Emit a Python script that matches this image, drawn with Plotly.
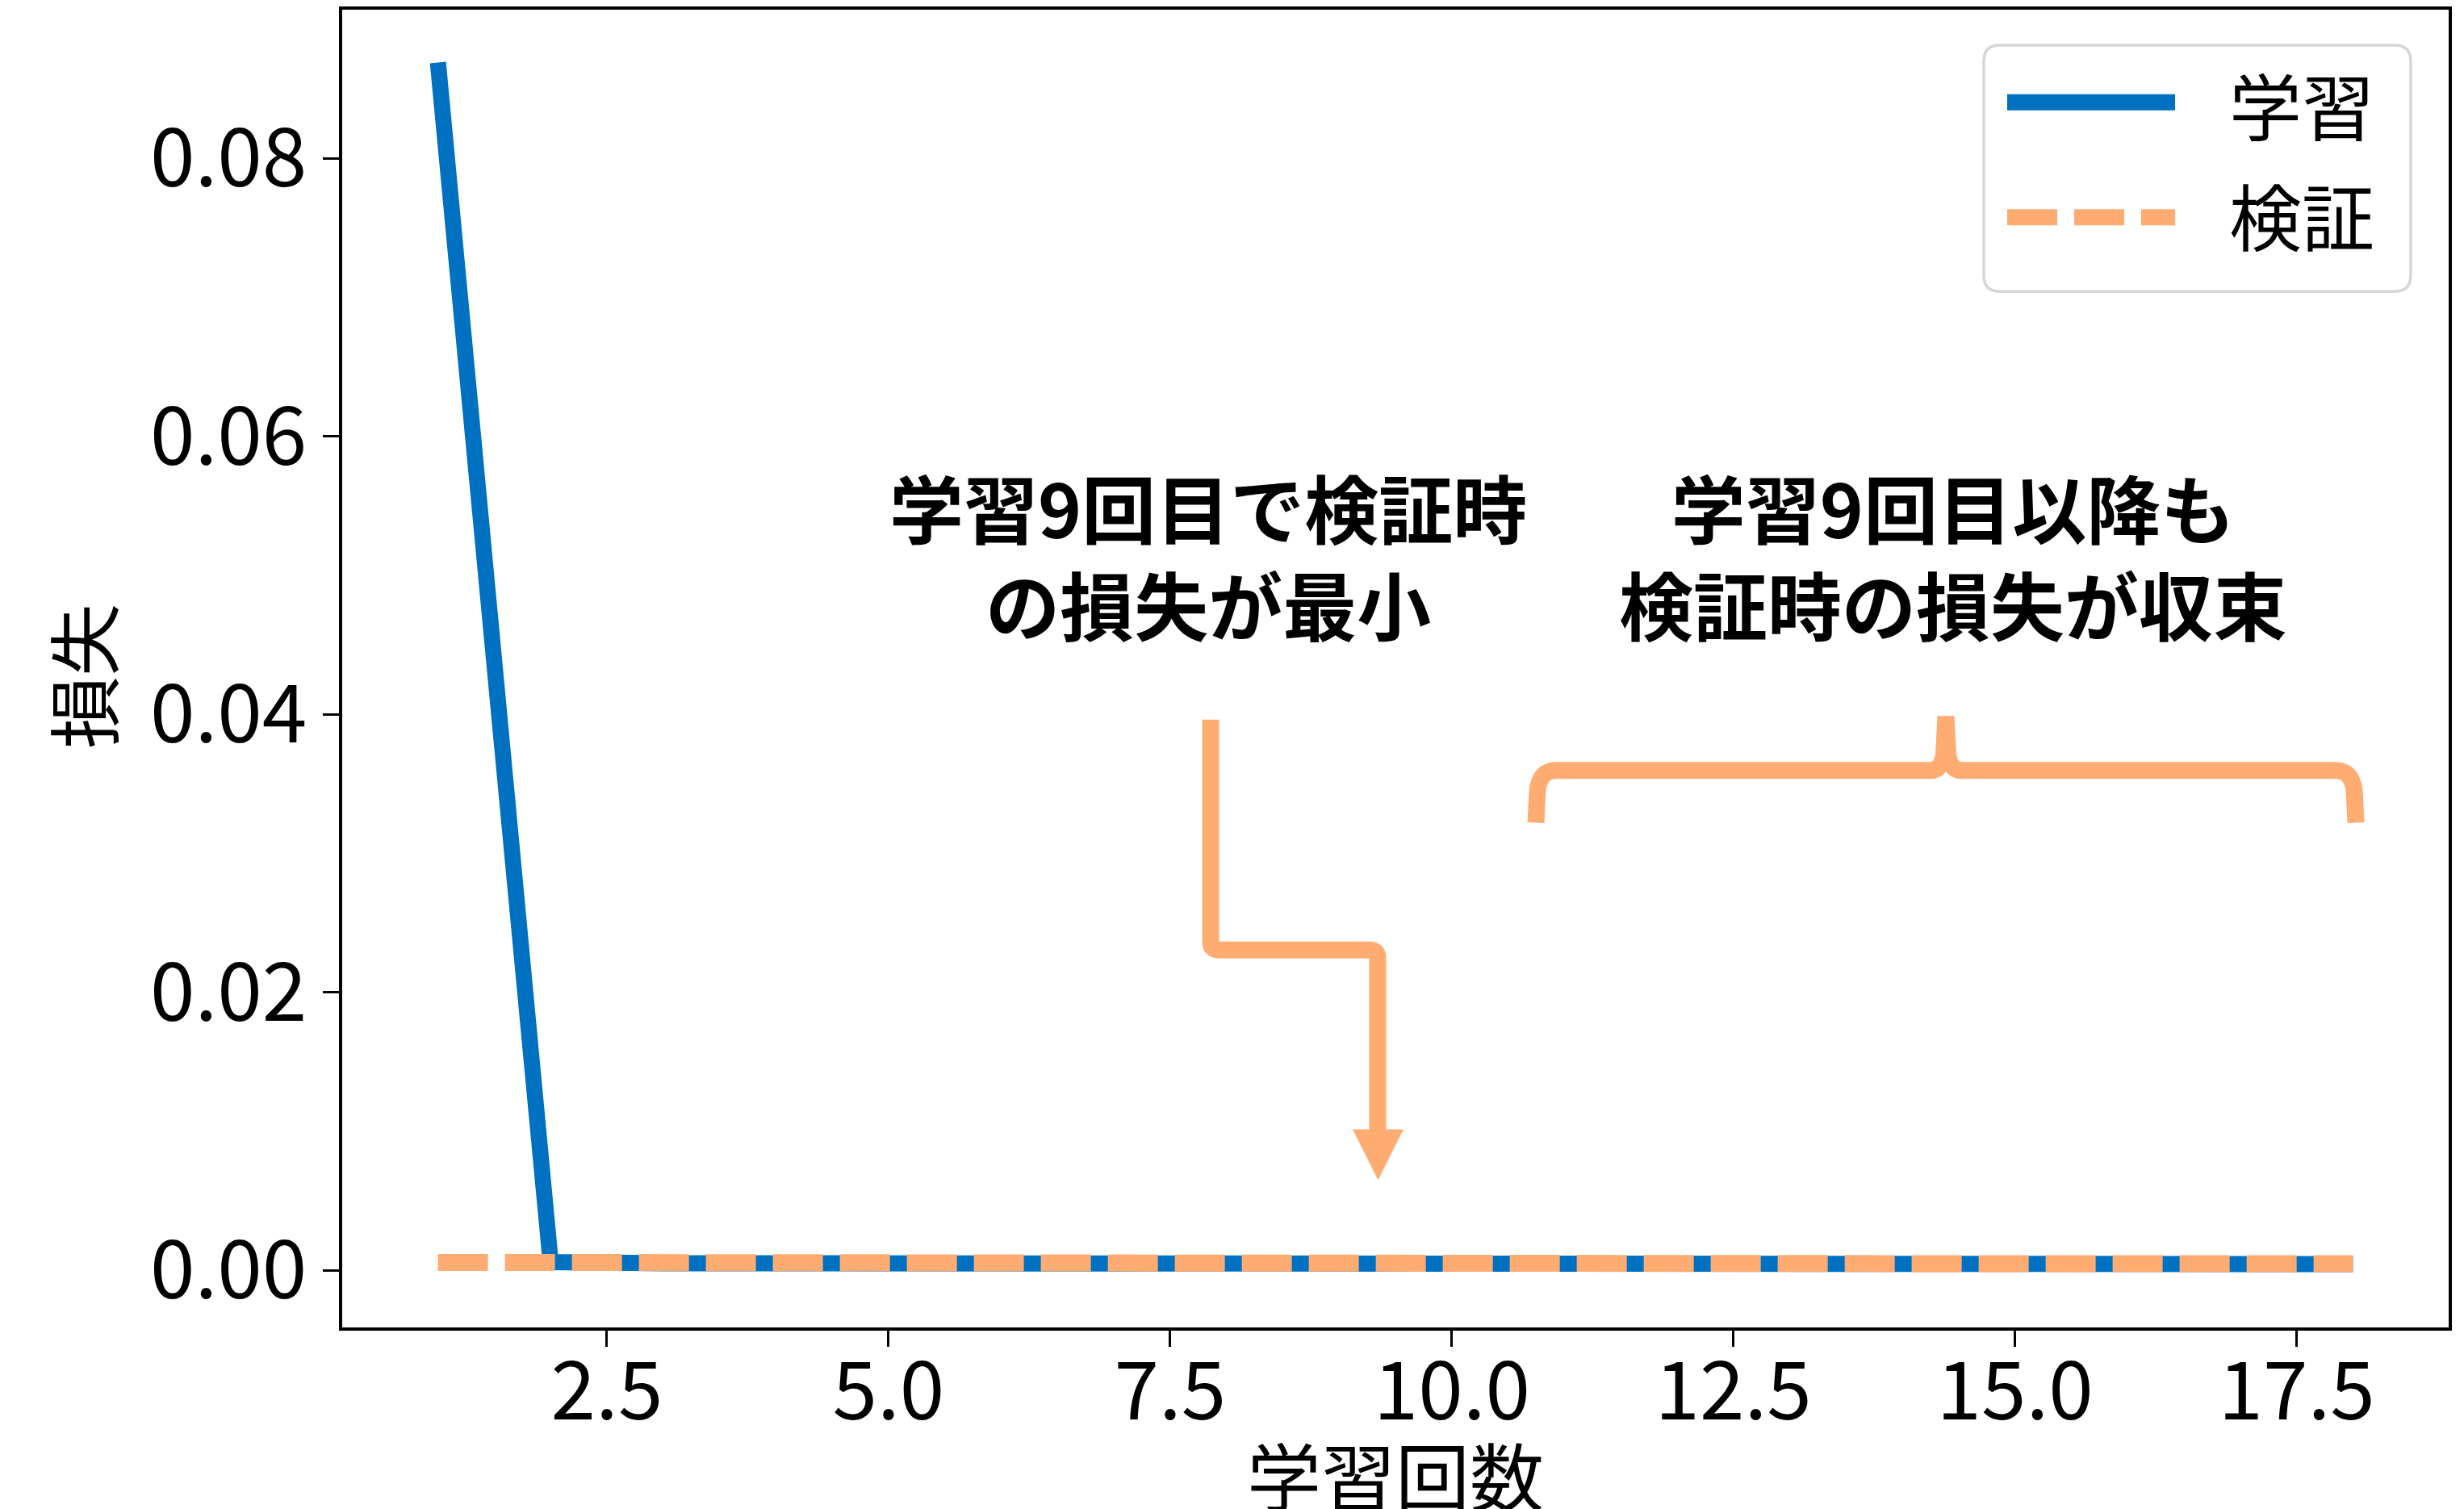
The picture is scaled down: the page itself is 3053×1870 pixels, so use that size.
import plotly.graph_objects as go

# ---------------- data ----------------
epochs = list(range(1, 19))
train_loss = [0.0869, 0.00060, 0.00052, 0.00050, 0.00049, 0.00049, 0.00048, 0.00048, 0.00048,
              0.00047, 0.00047, 0.00047, 0.00047, 0.00046, 0.00046, 0.00046, 0.00046, 0.00046]
val_loss = [0.00058, 0.00055, 0.00053, 0.00052, 0.00051, 0.00050, 0.00049, 0.00048, 0.00047,
            0.00048, 0.00048, 0.00049, 0.00048, 0.00049, 0.00048, 0.00049, 0.00049, 0.00048]
series_names = ["学習", "検証"]
x_title = "学習回数"
y_title = "損失"
note_left = ["学習9回目で検証時", "の損失が最小"]
note_right = ["学習9回目以降も", "検証時の損失が収束"]

BLUE = "#0070C0"
ORANGE = "#FFAC73"
FONT = "Noto Sans CJK JP"

W, H = 3053, 1870
L, R, T, B = 424, 3034, 8, 1645


def px(x):
    return (x - L) / (R - L)


def py(y):
    return (B - y) / (B - T)


def path(cmds):
    out = []
    for c in cmds:
        if isinstance(c, str):
            out.append(c)
        else:
            out.append(f"{px(c[0]):.5f},{py(c[1]):.5f}")
    return " ".join(out)


fig = go.Figure()
fig.add_trace(go.Scatter(x=epochs, y=train_loss, mode="lines", name=series_names[0],
                         line=dict(color=BLUE, width=20), showlegend=False))
fig.add_trace(go.Scatter(x=epochs, y=val_loss, mode="lines", name=series_names[1],
                         line=dict(color=ORANGE, width=21, dash="62px,21px"), showlegend=False))

shapes = []
# arrow (zig-zag) pointing at epoch 9
shapes.append(dict(type="path", xref="paper", yref="paper",
                   path=path(["M", (1500, 890), "L", (1500, 1166), "Q", (1500, 1176), (1510, 1176),
                              "L", (1697, 1176), "Q", (1707, 1176), (1707, 1186), "L", (1707, 1402)]),
                   line=dict(color=ORANGE, width=21)))
shapes.append(dict(type="path", xref="paper", yref="paper",
                   path=path(["M", (1676, 1399), "L", (1739, 1399), "L", (1707.5, 1462), "Z"]),
                   fillcolor=ORANGE, line=dict(width=0)))
# brace
shapes.append(dict(type="path", xref="paper", yref="paper",
                   path=path(["M", (1903, 1018), "L", (1905, 978), "Q", (1908, 953), (1928, 953),
                              "L", (2392, 953), "Q", (2408, 953), (2409, 925), "L", (2411, 886),
                              "L", (2413, 925), "Q", (2414, 953), (2430, 953),
                              "L", (2894, 953), "Q", (2914, 953), (2917, 978), "L", (2919, 1018)]),
                   line=dict(color=ORANGE, width=21)))
# legend frame (rounded)
x0, x1, y0, y1, r = 2458, 2987, 52, 358, 20
shapes.append(dict(type="path", xref="paper", yref="paper",
                   path=path(["M", (x0 + r, y0), "L", (x1 - r, y0), "Q", (x1, y0), (x1, y0 + r),
                              "L", (x1, y1 - r), "Q", (x1, y1), (x1 - r, y1),
                              "L", (x0 + r, y1), "Q", (x0, y1), (x0, y1 - r),
                              "L", (x0, y0 + r), "Q", (x0, y0), (x0 + r, y0), "Z"]),
                   fillcolor="white", line=dict(color="#D6D6D6", width=3.5)))
shapes.append(dict(type="line", xref="paper", yref="paper",
                   x0=px(2487), x1=px(2695), y0=py(123), y1=py(123),
                   line=dict(color=BLUE, width=20)))
shapes.append(dict(type="line", xref="paper", yref="paper",
                   x0=px(2487), x1=px(2695), y0=py(266), y1=py(266),
                   line=dict(color=ORANGE, width=20, dash="62px,21px")))

annotations = []
annotations.append(dict(text="<br>".join(note_left), xref="paper", yref="paper",
                        x=px(1497), y=py(684), xanchor="center", yanchor="middle",
                        align="center", showarrow=False,
                        font=dict(family=FONT, size=92, color="black", weight="bold")))
annotations.append(dict(text="<br>".join(note_right), xref="paper", yref="paper",
                        x=px(2420), y=py(684), xanchor="center", yanchor="middle",
                        align="center", showarrow=False,
                        font=dict(family=FONT, size=92, color="black", weight="bold")))
# legend texts
annotations.append(dict(text=series_names[0], xref="paper", yref="paper", x=px(2760), y=py(124),
                        xanchor="left", yanchor="middle", showarrow=False,
                        font=dict(family=FONT, size=90, color="black")))
annotations.append(dict(text=series_names[1], xref="paper", yref="paper", x=px(2760), y=py(262),
                        xanchor="left", yanchor="middle", showarrow=False,
                        font=dict(family=FONT, size=90, color="black")))
# axis titles
annotations.append(dict(text=x_title, xref="paper", yref="paper", x=0.5, y=py(1826),
                        xanchor="center", yanchor="middle", showarrow=False,
                        font=dict(family=FONT, size=92, color="black")))
annotations.append(dict(text=y_title, xref="paper", yref="paper", x=px(100), y=py(836),
                        xanchor="center", yanchor="middle", showarrow=False, textangle=-90,
                        font=dict(family=FONT, size=90, color="black")))

fig.update_layout(
    width=W, height=H,
    margin=dict(l=L, r=W - R, t=T, b=H - B),
    paper_bgcolor="white", plot_bgcolor="white",
    shapes=shapes, annotations=annotations,
    font=dict(family=FONT, color="black"),
)
axis_common = dict(showline=True, linecolor="black", linewidth=3.5, mirror=True,
                   ticks="outside", ticklen=20, tickwidth=3, tickcolor="black",
                   showgrid=False, zeroline=False,
                   tickfont=dict(family=FONT, size=100, color="black"))
fig.update_xaxes(range=[0.15, 18.85], tick0=0, dtick=2.5, tickformat=".1f",
                 ticklabelstandoff=-30, **axis_common)
fig.update_yaxes(range=[-0.0041, 0.0907], tick0=0, dtick=0.02, tickformat=".2f",
                 ticklabelstandoff=0, **axis_common)

fig.write_html("out.html")
